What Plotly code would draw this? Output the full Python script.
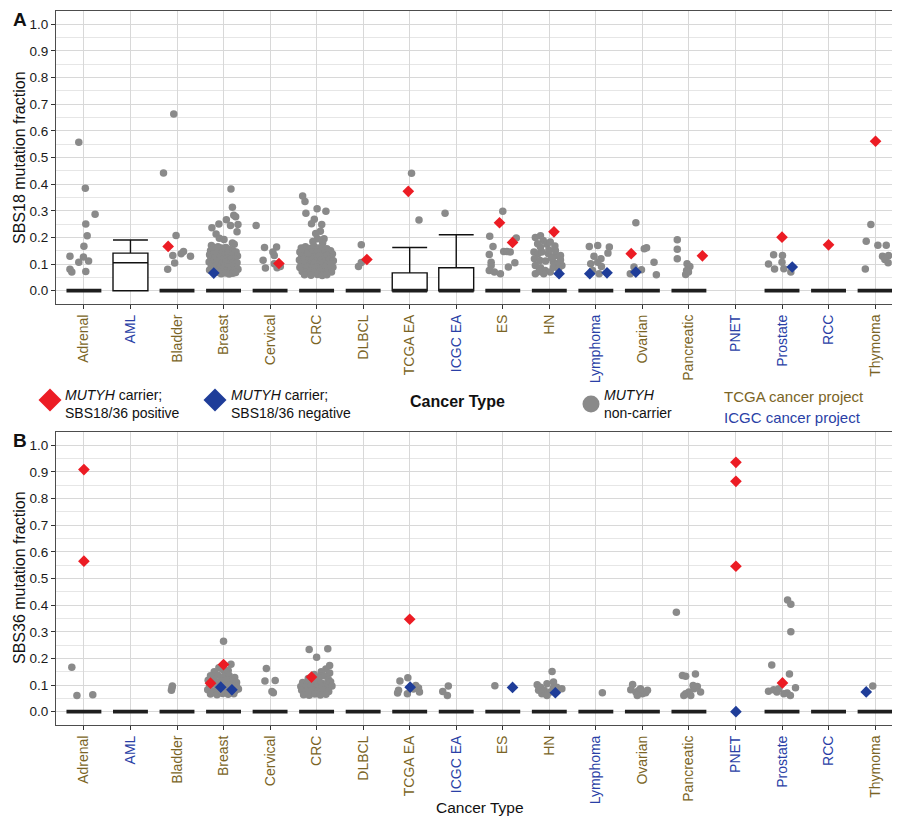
import plotly.graph_objects as go

CATEGORIES = ["Adrenal", "AML", "Bladder", "Breast", "Cervical", "CRC", "DLBCL",
              "TCGA EA", "ICGC EA", "ES", "HN", "Lymphoma", "Ovarian", "Pancreatic",
              "PNET", "Prostate", "RCC", "Thymoma"]
ICGC_PROJECTS = ["AML", "ICGC EA", "Lymphoma", "PNET", "Prostate", "RCC"]

TCGA_COLOR = "#7A6425"
ICGC_COLOR = "#2A3FA6"
RED = "#EC1C24"
BLUE = "#1F3D99"
GRAY = "#8A8A8A"

# (jitter, fraction), panel A = SBS18
gray_a = {
    "Adrenal": [(-0.11, 0.557), (0.03, 0.385), (0.24, 0.287), (0.04, 0.25), (0.07, 0.206), (0.0, 0.167),
                (-0.3, 0.129), (-0.01, 0.126), (-0.11, 0.107), (0.1, 0.111), (-0.3, 0.08), (-0.26, 0.07),
                (0.04, 0.072)],
    "Bladder": [(-0.07, 0.663), (-0.29, 0.442), (-0.02, 0.207), (-0.09, 0.132), (-0.05, 0.104), (-0.2, 0.08),
                (0.09, 0.139), (0.14, 0.147), (0.29, 0.129)],
    "Breast": [(0.16, 0.382), (0.19, 0.313), (0.26, 0.278), (0.22, 0.283), (0.06, 0.266), (-0.10, 0.250),
               (0.15, 0.245), (-0.25, 0.236), (0.31, 0.248), (0.29, 0.221), (0.19, 0.179), (0.23, 0.174),
               (-0.16, 0.213), (-0.09, 0.197), (0.01, 0.192), (-0.26, 0.170),
               (-0.28, 0.150), (-0.22, 0.158), (-0.12, 0.165), (-0.05, 0.160), (0.05, 0.162), (0.12, 0.155),
               (0.20, 0.150), (0.27, 0.145), (-0.30, 0.135), (-0.20, 0.138), (-0.14, 0.142), (-0.04, 0.140),
               (0.03, 0.137), (0.10, 0.140), (0.18, 0.133), (0.30, 0.130), (-0.27, 0.120), (-0.18, 0.123),
               (-0.08, 0.125), (0.00, 0.120), (0.08, 0.122), (0.15, 0.118), (0.24, 0.120), (-0.31, 0.108),
               (-0.22, 0.105), (-0.13, 0.110), (-0.03, 0.105), (0.05, 0.108), (0.13, 0.104), (0.21, 0.107),
               (0.29, 0.105), (-0.26, 0.092), (-0.16, 0.095), (-0.07, 0.090), (0.02, 0.093), (0.10, 0.090),
               (0.18, 0.092), (0.27, 0.088), (-0.30, 0.078), (-0.12, 0.077), (-0.02, 0.080), (0.07, 0.075),
               (0.15, 0.078), (0.24, 0.076), (0.31, 0.080), (-0.05, 0.064), (0.04, 0.066), (0.12, 0.063),
               (0.20, 0.065), (-0.10, 0.068), (0.26, 0.068)],
    "Cervical": [(-0.3, 0.245), (-0.12, 0.162), (0.14, 0.164), (-0.15, 0.114), (0.06, 0.145), (0.09, 0.132),
                 (-0.1, 0.085), (0.09, 0.101), (0.15, 0.086), (0.22, 0.091)],
    "CRC": [(-0.30, 0.355), (-0.25, 0.335), (-0.23, 0.291), (0.01, 0.308), (0.20, 0.298), (-0.05, 0.268),
            (-0.11, 0.251), (0.11, 0.248), (0.08, 0.223), (0.02, 0.195), (0.16, 0.195), (-0.02, 0.215),
            (0.13, 0.180), (-0.08, 0.185),
            (-0.33, 0.160), (-0.24, 0.165), (-0.15, 0.158), (-0.06, 0.167), (0.04, 0.160), (0.12, 0.163),
            (0.22, 0.157), (0.30, 0.150), (-0.36, 0.145), (-0.28, 0.148), (-0.19, 0.142), (-0.10, 0.146),
            (0.00, 0.143), (0.09, 0.148), (0.17, 0.141), (0.26, 0.145), (0.34, 0.138), (-0.32, 0.130),
            (-0.22, 0.127), (-0.14, 0.133), (-0.04, 0.128), (0.05, 0.131), (0.14, 0.126), (0.22, 0.132),
            (0.31, 0.125), (-0.37, 0.115), (-0.27, 0.118), (-0.18, 0.113), (-0.09, 0.117), (0.01, 0.112),
            (0.10, 0.116), (0.19, 0.111), (0.27, 0.117), (0.36, 0.112), (-0.33, 0.100), (-0.24, 0.103),
            (-0.14, 0.098), (-0.05, 0.102), (0.05, 0.099), (0.14, 0.103), (0.23, 0.097), (0.32, 0.101),
            (-0.36, 0.087), (-0.28, 0.084), (-0.19, 0.088), (-0.10, 0.085), (0.00, 0.089), (0.09, 0.083),
            (0.18, 0.087), (0.27, 0.084), (0.35, 0.088), (-0.31, 0.072), (-0.22, 0.070), (-0.13, 0.074),
            (-0.04, 0.069), (0.06, 0.073), (0.15, 0.068), (0.24, 0.072), (0.32, 0.070), (-0.26, 0.060),
            (-0.12, 0.058), (0.02, 0.061), (0.12, 0.057), (0.22, 0.060)],
    "DLBCL": [(-0.04, 0.172), (-0.1, 0.091), (-0.04, 0.106)],
    "TCGA EA": [(0.04, 0.441), (0.2, 0.265)],
    "ICGC EA": [(-0.24, 0.291)],
    "ES": [(0.0, 0.298), (-0.28, 0.204), (-0.21, 0.166), (-0.29, 0.136), (-0.25, 0.107), (-0.29, 0.076),
           (-0.18, 0.07), (-0.05, 0.064), (0.12, 0.089), (0.26, 0.105), (0.02, 0.147), (0.09, 0.147),
           (0.29, 0.198), (0.16, 0.145), (-0.25, 0.095)],
    "HN": [(-0.30, 0.200), (-0.19, 0.206), (-0.13, 0.188), (-0.25, 0.176), (-0.05, 0.174), (0.02, 0.183),
           (-0.33, 0.145), (-0.24, 0.139), (-0.16, 0.145), (-0.02, 0.139), (0.13, 0.132), (0.24, 0.132),
           (-0.01, 0.153), (-0.19, 0.163), (0.13, 0.151), (-0.32, 0.120), (-0.20, 0.113), (-0.08, 0.111),
           (0.09, 0.107), (0.18, 0.101), (0.05, 0.122), (-0.30, 0.095), (-0.19, 0.086), (-0.09, 0.076),
           (0.02, 0.070), (0.09, 0.088), (0.20, 0.082), (-0.30, 0.064), (-0.12, 0.064), (-0.22, 0.072),
           (0.27, 0.095), (0.24, 0.115), (0.12, 0.168)],
    "Lymphoma": [(-0.14, 0.166), (0.04, 0.17), (0.29, 0.164), (0.26, 0.141), (-0.04, 0.129), (0.11, 0.12),
                 (0.04, 0.107), (-0.11, 0.101), (0.12, 0.091), (-0.07, 0.076), (0.07, 0.064)],
    "Ovarian": [(-0.14, 0.255), (0.04, 0.157), (0.09, 0.161), (0.25, 0.107), (0.3, 0.06), (-0.18, 0.089),
                (-0.02, 0.079), (-0.26, 0.064)],
    "Pancreatic": [(-0.25, 0.191), (-0.25, 0.156), (-0.25, 0.12), (-0.04, 0.101), (0.02, 0.091), (-0.05, 0.076),
                   (-0.07, 0.061), (-0.01, 0.07)],
    "Prostate": [(-0.18, 0.135), (0.01, 0.132), (-0.29, 0.1), (0.0, 0.107), (-0.16, 0.081), (0.04, 0.082),
                 (0.19, 0.07)],
    "Thymoma": [(-0.09, 0.248), (-0.19, 0.186), (0.06, 0.171), (0.24, 0.171), (0.16, 0.129), (0.29, 0.132),
                (0.21, 0.117), (0.28, 0.105), (-0.21, 0.081)],
}
red_a = {
    "Bladder": [(-0.19, 0.166)], "Cervical": [(0.19, 0.102)], "DLBCL": [(0.08, 0.117)],
    "TCGA EA": [(-0.03, 0.373)], "ES": [(-0.07, 0.255), (0.21, 0.181)], "HN": [(0.1, 0.221)],
    "Ovarian": [(-0.24, 0.139)], "Pancreatic": [(0.29, 0.131)], "Prostate": [(0.0, 0.201)],
    "RCC": [(0.0, 0.172)], "Thymoma": [(0.01, 0.561)],
}
blue_a = {
    "Breast": [(-0.21, 0.066)], "HN": [(0.21, 0.064)], "Lymphoma": [(-0.13, 0.064), (0.24, 0.067)],
    "Ovarian": [(-0.14, 0.07)], "Prostate": [(0.22, 0.089)],
}

# panel B = SBS36
gray_b = {
    "Adrenal": [(-0.26, 0.167), (-0.15, 0.061), (0.19, 0.064)],
    "Bladder": [(-0.1, 0.096), (-0.12, 0.08), (-0.11, 0.088)],
    "Breast": [(0.0, 0.264), (0.16, 0.178), (-0.10, 0.165), (-0.02, 0.158), (0.10, 0.155), (-0.20, 0.150),
               (0.05, 0.145), (-0.28, 0.135), (-0.13, 0.138), (0.00, 0.132), (0.12, 0.136), (0.24, 0.128),
               (-0.33, 0.118), (-0.20, 0.121), (-0.06, 0.115), (0.07, 0.119), (0.18, 0.114), (0.28, 0.110),
               (-0.30, 0.098), (-0.16, 0.101), (0.02, 0.097), (0.12, 0.100), (0.28, 0.095), (-0.34, 0.082),
               (-0.20, 0.078), (-0.10, 0.083), (0.05, 0.080), (0.25, 0.079), (0.32, 0.085), (-0.28, 0.066),
               (-0.14, 0.064), (-0.02, 0.068), (0.10, 0.065), (0.22, 0.067)],
    "Cervical": [(-0.08, 0.162), (-0.11, 0.115), (0.11, 0.117), (0.04, 0.076), (0.07, 0.071)],
    "CRC": [(-0.16, 0.233), (0.24, 0.236), (0.0, 0.204), (0.28, 0.173), (0.20, 0.160), (0.10, 0.150),
            (0.28, 0.145), (-0.05, 0.140), (0.15, 0.135), (-0.18, 0.125), (0.05, 0.128), (0.25, 0.122),
            (-0.30, 0.110), (-0.20, 0.106), (-0.02, 0.112), (0.10, 0.108), (0.20, 0.105), (0.30, 0.112),
            (-0.34, 0.095), (-0.24, 0.092), (-0.12, 0.097), (0.0, 0.093), (0.12, 0.095), (0.24, 0.090),
            (0.33, 0.096), (-0.32, 0.080), (-0.22, 0.077), (-0.10, 0.082), (0.02, 0.078), (0.14, 0.080),
            (0.26, 0.076), (-0.28, 0.064), (-0.16, 0.062), (-0.04, 0.066), (0.08, 0.063), (0.20, 0.065)],
    "TCGA EA": [(-0.21, 0.115), (-0.04, 0.127), (0.19, 0.089), (0.21, 0.074), (-0.26, 0.07), (-0.24, 0.08),
                (-0.05, 0.067), (0.13, 0.098), (0.08, 0.085)],
    "ICGC EA": [(-0.17, 0.096), (-0.29, 0.076), (-0.19, 0.061)],
    "ES": [(-0.17, 0.097)],
    "HN": [(0.06, 0.151), (-0.26, 0.101), (-0.19, 0.092), (-0.11, 0.08), (-0.05, 0.105), (0.09, 0.111),
           (0.16, 0.092), (0.27, 0.086), (0.02, 0.074), (-0.16, 0.067), (-0.23, 0.08), (-0.05, 0.061),
           (0.09, 0.089)],
    "Lymphoma": [(0.14, 0.071)],
    "Ovarian": [(-0.21, 0.102), (-0.25, 0.082), (-0.14, 0.074), (-0.07, 0.08), (0.0, 0.067), (0.07, 0.071),
                (0.11, 0.08), (-0.11, 0.061), (-0.04, 0.086)],
    "Pancreatic": [(-0.27, 0.373), (-0.14, 0.136), (-0.07, 0.133), (0.14, 0.141), (-0.07, 0.067), (0.0, 0.074),
                   (0.11, 0.086), (0.18, 0.095), (0.25, 0.074), (0.04, 0.061), (-0.11, 0.061), (0.09, 0.098)],
    "Prostate": [(0.12, 0.419), (0.19, 0.403), (0.19, 0.3), (-0.22, 0.175), (0.16, 0.141), (-0.29, 0.077),
                 (-0.18, 0.082), (-0.07, 0.086), (0.11, 0.07), (0.18, 0.061), (0.29, 0.09), (0.04, 0.067),
                 (-0.11, 0.074)],
    "Thymoma": [(-0.05, 0.096)],
}
red_b = {
    "Adrenal": [(0.0, 0.909), (0.0, 0.565)], "Breast": [(0.0, 0.177), (-0.28, 0.107)],
    "CRC": [(-0.11, 0.13)], "TCGA EA": [(0.0, 0.347)],
    "PNET": [(0.01, 0.936), (0.01, 0.865), (0.01, 0.546)], "Prostate": [(0.01, 0.108)],
}
blue_b = {
    "Breast": [(-0.06, 0.092), (0.18, 0.082)], "TCGA EA": [(0.01, 0.092)], "ES": [(0.21, 0.091)],
    "HN": [(0.13, 0.071)], "PNET": [(0.01, 0.0)], "Thymoma": [(-0.19, 0.074)],
}

# box statistics (q1 = lower whisker = 0)
box_cats_a = ["AML", "TCGA EA", "ICGC EA"]
box_median_a = [0.105, 0.0, 0.0]
box_q3_a = [0.141, 0.067, 0.086]
box_upper_a = [0.19, 0.162, 0.21]
zero_cats_a = [c for c in CATEGORIES if c not in ("AML", "PNET")]
zero_cats_b = [c for c in CATEGORIES if c != "PNET"]

W, H = 900, 816


def px(x, y):
    return x / W, 1 - y / H


def add_points(fig, pts, xa, ya, color, symbol, size):
    xs, ys = [], []
    for cat, items in pts.items():
        i = CATEGORIES.index(cat)
        for off, v in items:
            xs.append(i + off)
            ys.append(v)
    fig.add_trace(go.Scatter(x=xs, y=ys, mode="markers", xaxis=xa, yaxis=ya, hoverinfo="skip",
                             showlegend=False,
                             marker=dict(color=color, symbol=symbol, size=size, line=dict(width=0))))


def add_zero_boxes(fig, cats, xa, ya):
    n = len(cats)
    fig.add_trace(go.Box(x=[CATEGORIES.index(c) for c in cats], q1=[0] * n, median=[0] * n, q3=[0] * n,
                         lowerfence=[0] * n, upperfence=[0] * n, width=0.75, boxpoints=False,
                         fillcolor="white", line=dict(color="#1E1E1E", width=3.8),
                         xaxis=xa, yaxis=ya, hoverinfo="skip", showlegend=False))


def diamond_key(fig, x, y, r, color):
    pts = [px(x - r, y), px(x, y - r), px(x + r, y), px(x, y + r)]
    path = "M " + " L ".join(f"{a:.5f},{b:.5f}" for a, b in pts) + " Z"
    fig.add_shape(type="path", path=path, xref="paper", yref="paper", fillcolor=color, line=dict(width=0))


def circle_key(fig, x, y, r, color):
    x0, y0 = px(x - r, y + r)
    x1, y1 = px(x + r, y - r)
    fig.add_shape(type="circle", x0=x0, y0=y0, x1=x1, y1=y1, xref="paper", yref="paper",
                  fillcolor=color, line=dict(width=0))


fig = go.Figure()

# panel A boxes
n = len(box_cats_a)
fig.add_trace(go.Box(x=[CATEGORIES.index(c) for c in box_cats_a], q1=[0] * n, median=box_median_a,
                     q3=box_q3_a, lowerfence=[0] * n, upperfence=box_upper_a, width=0.75, whiskerwidth=1,
                     boxpoints=False, fillcolor="white", line=dict(color="#111111", width=1.4),
                     xaxis="x", yaxis="y", hoverinfo="skip", showlegend=False))
add_zero_boxes(fig, zero_cats_a, "x", "y")
add_zero_boxes(fig, zero_cats_b, "x2", "y2")

add_points(fig, gray_a, "x", "y", GRAY, "circle", 7.5)
add_points(fig, red_a, "x", "y", RED, "diamond", 9)
add_points(fig, blue_a, "x", "y", BLUE, "diamond", 9)
add_points(fig, gray_b, "x2", "y2", GRAY, "circle", 7.5)
add_points(fig, red_b, "x2", "y2", RED, "diamond", 9)
add_points(fig, blue_b, "x2", "y2", BLUE, "diamond", 9)

# legend keys between the panels
diamond_key(fig, 42, 392, 11.5, RED)
diamond_key(fig, 207, 392, 11.5, BLUE)
circle_key(fig, 583, 396, 8.5, GRAY)

ticktext = []
for c in CATEGORIES:
    col = ICGC_COLOR if c in ICGC_PROJECTS else TCGA_COLOR
    ticktext.append(f'<span style="color:{col}">{c}</span>')

xaxis_common = dict(range=[-0.6, 17.6], tickmode="array", tickvals=list(range(len(CATEGORIES))),
                    ticktext=ticktext, tickangle=-90, tickfont=dict(size=14), ticks="outside", ticklen=4,
                    tickcolor="#333333", showgrid=True, gridcolor="#D8D8D8", gridwidth=1.2,
                    showline=True, mirror=True, linecolor="#4D4D4D", linewidth=1, zeroline=False)
yaxis_common = dict(range=[-0.05, 1.05], tick0=0, dtick=0.1, tickformat=".1f",
                    tickfont=dict(size=13.5, color="#1A1A1A"),
                    ticks="outside", ticklen=4, tickcolor="#333333", showgrid=True, gridcolor="#D8D8D8",
                    gridwidth=1.2, minor=dict(dtick=0.05, showgrid=True, gridcolor="#E6E6E6", gridwidth=1),
                    showline=True, mirror=True, linecolor="#4D4D4D", linewidth=1, zeroline=False)

fig.update_layout(
    width=W, height=H, margin=dict(l=0, r=0, t=0, b=0),
    paper_bgcolor="white", plot_bgcolor="white",
    font=dict(family="Liberation Sans, Arial, sans-serif", color="#111111"),
    boxmode="overlay",
    xaxis=dict(domain=[48 / W, 895 / W], anchor="y", **xaxis_common),
    yaxis=dict(domain=[1 - 296 / H, 1 - 3 / H], anchor="x", **yaxis_common),
    xaxis2=dict(domain=[48 / W, 895 / W], anchor="y2", **xaxis_common),
    yaxis2=dict(domain=[1 - 717 / H, 1 - 424 / H], anchor="x2", **yaxis_common),
)

notes = [
    dict(text="<b>A</b>", x=3, y=12, size=19, xanchor="left"),
    dict(text="<b>B</b>", x=3, y=432, size=19, xanchor="left"),
    dict(text="SBS18 mutation fraction", x=11, y=150, size=16, angle=-90),
    dict(text="SBS36 mutation fraction", x=11, y=570, size=16, angle=-90),
    dict(text="<i>MUTYH</i> carrier;<br>SBS18/36 positive", x=55, y=396, size=14, xanchor="left"),
    dict(text="<i>MUTYH</i> carrier;<br>SBS18/36 negative", x=221, y=396, size=14, xanchor="left"),
    dict(text="<b>Cancer Type</b>", x=449, y=393, size=16),
    dict(text="<i>MUTYH</i><br>non-carrier", x=594, y=396, size=14, xanchor="left"),
    dict(text="TCGA cancer project", x=714, y=388, size=15, xanchor="left", color=TCGA_COLOR),
    dict(text="ICGC cancer project", x=714, y=409, size=15, xanchor="left", color=ICGC_COLOR),
    dict(text="Cancer Type", x=472, y=799, size=15.5),
]
for a in notes:
    ax, ay = px(a["x"], a["y"])
    fig.add_annotation(text=a["text"], x=ax, y=ay, xref="paper", yref="paper", showarrow=False,
                       xanchor=a.get("xanchor", "center"), yanchor="middle", align="left",
                       textangle=a.get("angle", 0),
                       font=dict(size=a["size"], color=a.get("color", "#111111")))

fig.write_html("out.html")
